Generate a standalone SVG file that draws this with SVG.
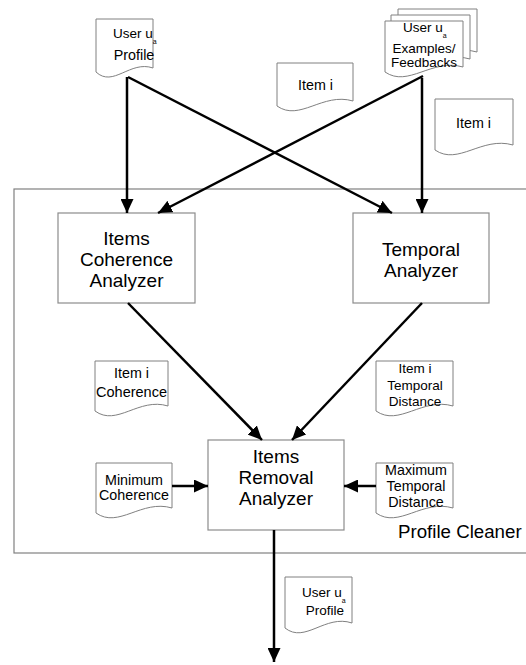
<svg xmlns="http://www.w3.org/2000/svg" width="526" height="665" viewBox="0 0 526 665">
<style>
.doc{fill:#fff;stroke:#808080;stroke-width:1}
.box{fill:#fff;stroke:#8c8c8c;stroke-width:1.2}
.frame{fill:none;stroke:#808080;stroke-width:1.2}
.t{font-family:"Liberation Sans",Arial,sans-serif;fill:#000}
.bt{font-size:19px;text-anchor:middle}
.dt{font-size:14.3px;text-anchor:middle}
.sub{font-size:7px}
.arr{stroke:#000;stroke-width:2.5;fill:none;marker-end:url(#ah)}
</style>
<defs>
<marker id="ah" markerUnits="userSpaceOnUse" markerWidth="14" markerHeight="13" refX="14" refY="6.5" orient="auto">
<path d="M0,0 L14,6.5 L0,13 Z" fill="#000"/>
</marker>
</defs>
<rect width="526" height="665" fill="#fff"/>
<g id="profile-cleaner">
<rect class="frame" x="14" y="189" width="530" height="364"/>
<text class="t" x="398" y="538" font-size="18.7">Profile Cleaner</text>
</g>
<g id="user-profile-in">
<path class="doc" d="M96,19 H153 V68 C130.2,60 113.1,88 96,72 Z"/>
<text class="t" x="113" y="38" font-size="13.5">User u<tspan class="sub" dy="6">a</tspan></text>
<text class="t dt" x="134" y="60" font-size="13.5">Profile</text>
</g>
<g id="user-examples">
<path class="doc" d="M398,9 H477 V52 C445.4,43 421.7,73 398,57 Z"/>
<path class="doc" d="M391,15 H470 V59 C438.4,50 414.7,80 391,64 Z"/>
<path class="doc" d="M385,21 H463 V67 C431.8,58 408.4,88 385,72 Z"/>
<text class="t" x="403" y="32" font-size="13.5">User u<tspan class="sub" dy="6">a</tspan></text>
<text class="t dt" x="424" y="53" style="font-size:13.5px">Examples/</text>
<text class="t dt" x="424" y="67" style="font-size:13.5px">Feedbacks</text>
</g>
<g id="item-i-top">
<path class="doc" d="M277,63 H353 V101 C322.6,92 299.8,122 277,106 Z"/>
<text class="t dt" x="315.5" y="90">Item i</text>
</g>
<g id="item-i-right">
<path class="doc" d="M435,99 H513 V145 C481.8,136 458.4,166 435,150 Z"/>
<text class="t dt" x="473.5" y="128">Item i</text>
</g>
<g id="coherence-analyzer">
<rect class="box" x="58" y="213" width="137" height="90"/>
<text class="t bt" x="126.5" y="245">Items</text>
<text class="t bt" x="126.5" y="266">Coherence</text>
<text class="t bt" x="126.5" y="287">Analyzer</text>
</g>
<g id="temporal-analyzer">
<rect class="box" x="353" y="213" width="136" height="90"/>
<text class="t bt" x="421" y="256">Temporal</text>
<text class="t bt" x="421" y="277">Analyzer</text>
</g>
<g id="item-coherence">
<path class="doc" d="M95,361 H168 V406 C138.8,397 116.9,427 95,411 Z"/>
<text class="t dt" x="131.5" y="378">Item i</text>
<text class="t dt" x="131.5" y="397" style="font-size:14.5px">Coherence</text>
</g>
<g id="item-temporal-distance">
<path class="doc" d="M376,361 H453 V406 C422.2,397 399.1,427 376,411 Z"/>
<text class="t dt" x="415" y="373" style="font-size:13.5px">Item i</text>
<text class="t dt" x="415" y="390" style="font-size:13.5px">Temporal</text>
<text class="t dt" x="415" y="406" style="font-size:13.5px">Distance</text>
</g>
<g id="removal-analyzer">
<rect class="box" x="208" y="440" width="136" height="90"/>
<text class="t bt" x="276" y="463">Items</text>
<text class="t bt" x="276" y="484">Removal</text>
<text class="t bt" x="276" y="505">Analyzer</text>
</g>
<g id="minimum-coherence">
<path class="doc" d="M96,463 H172 V508 C141.6,499 118.8,529 96,513 Z"/>
<text class="t dt" x="134" y="485">Minimum</text>
<text class="t dt" x="134" y="500">Coherence</text>
</g>
<g id="maximum-temporal-distance">
<path class="doc" d="M376,463 H453 V508 C422.2,499 399.1,529 376,513 Z"/>
<text class="t dt" x="416" y="475">Maximum</text>
<text class="t dt" x="416" y="491">Temporal</text>
<text class="t dt" x="416" y="507">Distance</text>
</g>
<g id="user-profile-out">
<path class="doc" d="M285,577 H352 V623 C325.2,614 305.1,644 285,628 Z"/>
<text class="t" x="302" y="597" font-size="13.5">User u<tspan class="sub" dy="6">a</tspan></text>
<text class="t" x="325" y="615" font-size="13.5" text-anchor="middle">Profile</text>
</g>
<g id="connectors">
<line class="arr" x1="127" y1="77" x2="127" y2="213"/>
<line class="arr" x1="128" y1="77" x2="392" y2="213"/>
<line class="arr" x1="423" y1="76" x2="158" y2="213"/>
<line class="arr" x1="422" y1="78" x2="422" y2="213"/>
<line class="arr" x1="128" y1="303" x2="262" y2="440"/>
<line class="arr" x1="422" y1="303" x2="292" y2="440"/>
<line class="arr" x1="172" y1="486" x2="208" y2="486"/>
<line class="arr" x1="376" y1="486" x2="344" y2="486"/>
<line class="arr" x1="274" y1="530" x2="274" y2="662"/>
</g>
</svg>
